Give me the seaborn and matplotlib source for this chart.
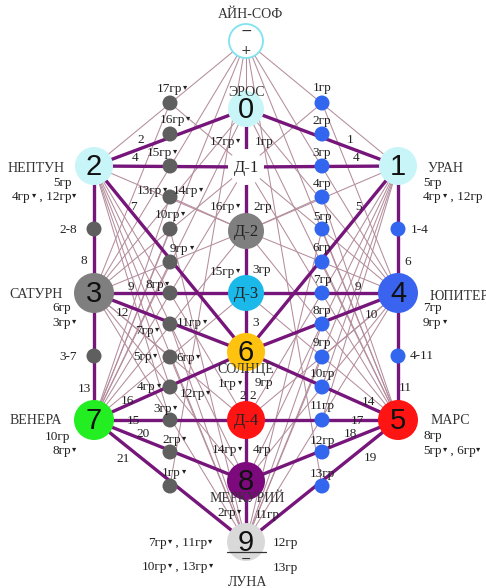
import numpy as np
import pandas as pd
import matplotlib
matplotlib.use("Agg")
import matplotlib.pyplot as plt
import seaborn as sns

# ---- data: diagram nodes (pixel coords of the picture) ----
node_keys = ["AS", "0", "D1", "D2", "D3", "6", "D4", "8", "9", "2", "1", "3", "4", "7", "5"]
node_x = [246, 246, 246, 246, 246, 246, 246, 246, 246, 94, 398, 94, 398, 94, 398]
node_y = [41, 109, 167, 231, 293, 352, 420, 481, 542, 166, 166, 293, 293, 420, 420]
node_r = [17, 18, 18, 18, 18, 19, 19, 19, 19, 19, 19, 20, 20, 20, 20]
node_colors = ["#ffffff", "#c8f5f8", "#ffffff", "#7f7f7f", "#1bb8ea", "#ffc20e", "#ff1414",
               "#7d0a7d", "#d9d9d9", "#c8f5f8", "#c8f5f8", "#7f7f7f", "#3a63f0", "#22ee22", "#ff1414"]
node_text = ["", "0", "Д-1", "Д-2", "Д-3", "6", "Д-4", "8", "9", "2", "1", "3", "4", "7", "5"]

# small dots: grey column (left) and blue column (right)
gray_keys = ["g17", "g16", "g15", "g14", "g10", "g9", "g8", "g11", "g6", "g4", "g3", "g2", "g1"]
blue_keys = ["b1", "b2", "b3", "b4", "b5", "b6", "b7", "b8", "b9", "b10", "b11", "b12", "b13"]
dot_y = [103, 134, 166, 197, 229, 262, 293, 324, 357, 387, 420, 452, 486]
gray_x, blue_x = 170, 322
side_dots = {"d28": (94, 229), "d37": (94, 356), "d14": (398, 229), "d411": (398, 356)}

# thick paths
thick_edges = [("0", "D1"), ("D1", "D2"), ("D2", "D3"), ("D3", "6"), ("6", "D4"), ("D4", "8"), ("8", "9"),
               ("2", "3"), ("3", "7"), ("1", "4"), ("4", "5"),
               ("2", "D1"), ("D1", "1"), ("3", "D3"), ("D3", "4"), ("7", "D4"), ("D4", "5"),
               ("0", "2"), ("0", "1"), ("2", "6"), ("1", "6"), ("3", "6"), ("4", "6"),
               ("7", "6"), ("5", "6"), ("7", "8"), ("5", "8"), ("7", "9"), ("5", "9")]

# thin web (left half, mirrored to the right)
thin_left = [("AS", "2"), ("AS", "3"), ("AS", "7"), ("AS", "g1"),
             ("2", "D2"), ("2", "D4"), ("2", "8"), ("2", "9"), ("2", "g4"), ("2", "g3"),
             ("3", "g17"), ("3", "0"), ("3", "D1"), ("3", "D2"), ("3", "g6"), ("3", "D4"), ("3", "8"), ("3", "9"),
             ("7", "g10"), ("7", "g14"), ("7", "0"), ("7", "D1"), ("7", "D2"), ("7", "D3"), ("7", "g9"),
             ("9", "g11"), ("9", "g10"), ("9", "g6"), ("g14", "D2"), ("g17", "D1")]
thin_center = [("AS", "0")]

# ---- labels ----
names = [("АЙН-СОФ", 250, 14, "center"), ("ЭРОС", 246, 92, "center"), ("СОЛНЦЕ", 246, 370, "center"),
         ("МЕРКУРИЙ", 247, 498, "center"), ("ЛУНА", 248, 582, "center"),
         ("НЕПТУН", 36, 168, "center"), ("УРАН", 428, 168, "left"),
         ("САТУРН", 36, 294, "center"), ("ЮПИТЕР", 430, 296, "left"),
         ("ВЕНЕРА", 36, 421, "center"), ("МАРС", 431, 421, "left")]

edge_nums = [("1", 350, 140), ("2", 141, 140), ("4", 135, 158), ("4", 356, 158), ("7", 133, 207),
             ("5", 358, 207), ("8", 84, 261), ("6", 408, 262), ("9", 131, 287), ("9", 358, 287),
             ("12", 122, 313), ("10", 371, 315), ("3", 256, 323), ("13", 84, 389), ("11", 405, 388),
             ("16", 127, 401), ("14", 368, 402), ("15", 133, 421), ("17", 357, 421), ("20", 143, 434),
             ("18", 350, 434), ("21", 123, 459), ("19", 370, 458), ("2 2", 248, 396),
             ("2-8", 68, 230), ("3-7", 68, 357), ("1-4", 420, 230), ("4-11", 422, 356)]

# "^" = small triangle mark after the part; positions are left edges
grp_labels = [("17гр^", 157, 89), ("16гр^", 160, 120), ("15гр^", 147, 153), ("13гр^", 137, 191),
              ("14гр^", 173, 191), ("10гр^", 155, 215), ("9гр^", 170, 249), ("8гр^", 145, 285),
              ("11гр^", 177, 323), ("7гр^", 135, 331), ("5гр^", 133, 357), ("6гр^", 176, 358),
              ("4гр^", 137, 387), ("12гр^", 180, 394), ("3гр^", 153, 409), ("2гр^", 162, 440),
              ("1гр^", 162, 473),
              ("17гр^", 210, 142), ("1гр", 255, 142), ("16гр^", 210, 207), ("2гр", 253, 207),
              ("15гр^", 210, 272), ("3гр", 252, 270), ("1гр^", 218, 384), ("9гр", 255, 383),
              ("14гр^", 212, 450), ("4гр", 253, 450), ("2гр^", 217, 513), ("11гр", 255, 515),
              ("5гр", 53, 183), ("4гр^ , 12гр^", 12, 197), ("5гр", 423, 183), ("4гр^ , 12гр", 423, 197),
              ("6гр", 52, 308), ("3гр^", 52, 323), ("7гр", 423, 308), ("9гр^", 423, 323),
              ("10гр", 45, 437), ("8гр^", 52, 451), ("8гр", 423, 436), ("5гр^ , 6гр^", 423, 451),
              ("7гр^ , 11гр^", 148, 543), ("10гр^ , 13гр^", 142, 567), ("12гр", 273, 543), ("13гр", 273, 568)]
blue_labels = ["1гр", "2гр", "3гр", "4гр", "5гр", "6гр", "7гр", "8гр", "9гр", "10гр", "11гр", "12гр", "13гр"]
blue_label_y = [88, 121, 153, 184, 217, 248, 280, 311, 343, 374, 406, 441, 474]

# ---- build position lookup ----
pos = {k: (x, y) for k, x, y in zip(node_keys, node_x, node_y)}
for gk, bk, y in zip(gray_keys, blue_keys, dot_y):
    pos[gk] = (gray_x, y)
    pos[bk] = (blue_x, y)
pos.update(side_dots)

mirror = {"2": "1", "3": "4", "7": "5"}
mirror.update(dict(zip(gray_keys, blue_keys)))
thin_edges = list(thin_center)
for a, b in thin_left:
    thin_edges.append((a, b))
    thin_edges.append((mirror.get(a, a), mirror.get(b, b)))


def seg_frame(edges):
    rows = []
    for i, (a, b) in enumerate(edges):
        rows.append({"seg": i, "x": pos[a][0], "y": pos[a][1]})
        rows.append({"seg": i, "x": pos[b][0], "y": pos[b][1]})
    return pd.DataFrame(rows)


sns.set_style("white")
plt.rcParams["font.family"] = ["Liberation Serif", "DejaVu Serif"]

W, H = 486, 588
fig = plt.figure(figsize=(W / 100, H / 100), dpi=100)
ax = fig.add_axes([0, 0, 1, 1])

sns.lineplot(data=seg_frame(thin_edges), x="x", y="y", units="seg", estimator=None, sort=False,
             color="#b48d9c", linewidth=0.75, ax=ax, zorder=1)
sns.lineplot(data=seg_frame(thick_edges), x="x", y="y", units="seg", estimator=None, sort=False,
             color="#76157a", linewidth=2.4, ax=ax, zorder=2)

px2pt = 72 / 100
# small dots
dots = pd.DataFrame({"x": [gray_x] * 13 + [blue_x] * 13 + [p[0] for p in side_dots.values()],
                     "y": dot_y + dot_y + [p[1] for p in side_dots.values()],
                     "kind": ["gray"] * 13 + ["blue"] * 13 + ["gray", "gray", "blue", "blue"]})
sns.scatterplot(data=dots, x="x", y="y", hue="kind", palette={"gray": "#5f5f5f", "blue": "#3366ee"},
                s=(15 * px2pt) ** 2, linewidth=0, legend=False, ax=ax, zorder=3)

# big nodes
nodes = pd.DataFrame({"key": node_keys, "x": node_x, "y": node_y, "r": node_r})
sns.scatterplot(data=nodes, x="x", y="y", hue="key", palette=dict(zip(node_keys, node_colors)),
                size="key", sizes={k: (2 * r * px2pt) ** 2 for k, r in zip(node_keys, node_r)},
                edgecolor=["#7fe3ee"] + ["none"] * (len(node_keys) - 1), linewidth=1.3,
                legend=False, ax=ax, zorder=4)

ax.set_xlim(0, W)
ax.set_ylim(H, 0)
ax.axis("off")

# node texts
for k, t, x, y in zip(node_keys, node_text, node_x, node_y):
    if not t:
        continue
    if t.startswith("Д"):
        ax.text(x, y + 1, t, ha="center", va="center", fontsize=12, color="#222222", zorder=5)
    else:
        ax.text(x, y + 1, t, ha="center", va="center", fontsize=21, family="Liberation Sans",
                color="#111111", zorder=5)
ax.text(246, 31, "−", ha="center", va="center", fontsize=10, family="DejaVu Sans", color="#333333", zorder=5)
ax.text(246, 51, "+", ha="center", va="center", fontsize=9, family="DejaVu Sans", color="#333333", zorder=5)
ax.plot([227, 266], [552, 552], color="#333333", linewidth=0.9, zorder=5)
ax.text(246, 559, "−", ha="center", va="center", fontsize=9, family="DejaVu Sans", color="#333333", zorder=5)

for t, x, y, ha in names:
    ax.text(x, y, t, ha=ha, va="center", fontsize=10, color="#333333", zorder=5)
for t, x, y in edge_nums:
    ax.text(x, y, t, ha="center", va="center", fontsize=9.5, color="#222222", zorder=5)
for t, y in zip(blue_labels, blue_label_y):
    ax.text(blue_x, y, t, ha="center", va="center", fontsize=9.5, color="#222222", zorder=5)

renderer = fig.canvas.get_renderer()
for s, x, y in grp_labels:
    parts = s.split("^")
    cx = x
    for i, part in enumerate(parts):
        top = y - 6
        if part:
            txt = ax.text(cx, y, part, ha="left", va="center", fontsize=9.5, color="#222222", zorder=5)
            bb = txt.get_window_extent(renderer)
            cx = bb.x1
            top = H - bb.y1
        if i < len(parts) - 1:
            ax.text(cx + 1, top - 1, "▾", ha="left", va="top", fontsize=6, family="DejaVu Sans",
                    color="#222222", zorder=5)
            cx += 5

fig.savefig("out.png", dpi=100)
